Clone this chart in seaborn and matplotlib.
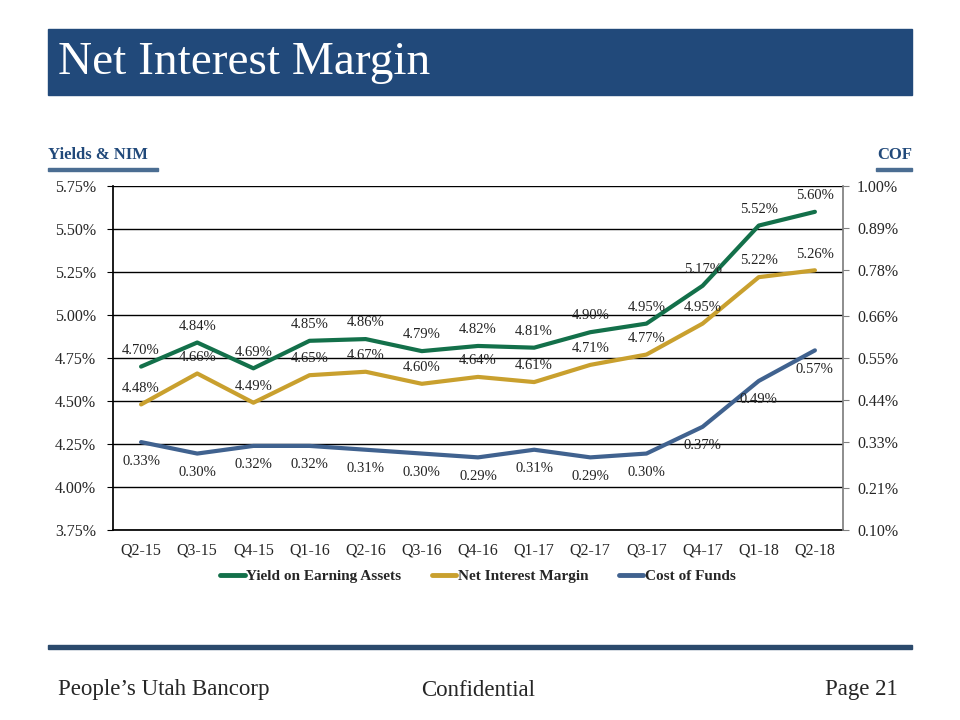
import matplotlib
matplotlib.use("Agg")
import matplotlib.pyplot as plt
import seaborn as sns
import pandas as pd
from matplotlib.patches import Rectangle
from matplotlib.lines import Line2D

quarters = ["Q2-15", "Q3-15", "Q4-15", "Q1-16", "Q2-16", "Q3-16", "Q4-16",
            "Q1-17", "Q2-17", "Q3-17", "Q4-17", "Q1-18", "Q2-18"]
yield_ea = [4.70, 4.84, 4.69, 4.85, 4.86, 4.79, 4.82, 4.81, 4.90, 4.95, 5.17, 5.52, 5.60]
nim = [4.48, 4.66, 4.49, 4.65, 4.67, 4.60, 4.64, 4.61, 4.71, 4.77, 4.95, 5.22, 5.26]
cof = [0.33, 0.30, 0.32, 0.32, 0.31, 0.30, 0.29, 0.31, 0.29, 0.30, 0.37, 0.49, 0.57]
left_ticks = [3.75, 4.00, 4.25, 4.50, 4.75, 5.00, 5.25, 5.50, 5.75]
right_ticks = [0.10, 0.21, 0.33, 0.44, 0.55, 0.66, 0.78, 0.89, 1.00]

GREEN = "#13704a"
GOLD = "#c9a02e"
BLUE = "#40628f"
NAVY = "#21497a"

sns.set_theme(style="white")
plt.rcParams["font.family"] = ["Liberation Serif", "DejaVu Serif"]

df = pd.DataFrame({"Quarter": quarters, "Yield": yield_ea, "NIM": nim, "COF": cof})
df["pos"] = range(len(quarters))

fig = plt.figure(figsize=(9.6, 7.2), dpi=100)
ax = fig.add_axes([113/960, 1-530/720, (843-113)/960, (530-186)/720])
ax2 = ax.twinx()

lw = 3.0
sns.lineplot(data=df, x="pos", y="Yield", ax=ax, color=GREEN, lw=lw, zorder=3)
sns.lineplot(data=df, x="pos", y="NIM", ax=ax, color=GOLD, lw=lw, zorder=3)
sns.lineplot(data=df, x="pos", y="COF", ax=ax2, color=BLUE, lw=lw, zorder=3)

ax.set_xlim(-0.5, len(quarters) - 0.5)
ax.set_ylim(3.75, 5.75)
ax2.set_ylim(0.10, 1.00)
ax.set_yticks(left_ticks)
ax.set_yticklabels([f"{v:.2f}%" for v in left_ticks], fontsize=11.5)
ax2.set_yticks(right_ticks)
ax2.set_yticklabels([f"{v:.2f}%" for v in right_ticks], fontsize=11.5)
ax.set_xticks(range(len(quarters)))
ax.set_xticklabels(quarters, fontsize=11.5)
ax.set_xticks([i - 0.5 for i in range(len(quarters) + 1)], minor=True)
ax.tick_params(axis="x", which="major", length=0, pad=9)
ax.tick_params(axis="x", which="minor", length=5, color="black", width=0.8, direction="out")
ax.tick_params(axis="y", length=4, color="black", width=0.8, direction="out", pad=8)
ax2.tick_params(axis="y", length=4, color="gray", width=0.8, direction="out", pad=6)
ax.set_xlabel("")
ax.set_ylabel("")
ax2.set_ylabel("")
ax.grid(False)
ax2.grid(False)
for v in left_ticks:
    ax.axhline(v, color="black", lw=1.0, zorder=1)
for s in ["top", "right"]:
    ax.spines[s].set_visible(False)
ax.spines["left"].set_color("black")
ax.spines["bottom"].set_color("black")
ax2.spines["right"].set_color("gray")
ax2.spines["top"].set_visible(False)
ax2.spines["left"].set_visible(False)
ax2.spines["bottom"].set_visible(False)

for i, v in enumerate(yield_ea):
    ax.annotate(f"{v:.2f}%", (i, v), xytext=(0, 7), textcoords="offset points",
                ha="center", va="bottom", fontsize=10.5, color="#222222")
for i, v in enumerate(nim):
    ax.annotate(f"{v:.2f}%", (i, v), xytext=(0, 7), textcoords="offset points",
                ha="center", va="bottom", fontsize=10.5, color="#222222")
for i, v in enumerate(cof):
    ax2.annotate(f"{v:.2f}%", (i, v), xytext=(0, -9), textcoords="offset points",
                 ha="center", va="top", fontsize=10.5, color="#222222")

handles = [Line2D([0], [0], color=GREEN, lw=3.5),
           Line2D([0], [0], color=GOLD, lw=3.5),
           Line2D([0], [0], color=BLUE, lw=3.5)]
fig.legend(handles, ["Yield on Earning Assets", "Net Interest Margin", "Cost of Funds"],
           loc="center", bbox_to_anchor=(478/960, 1-576/720), ncol=3, frameon=False,
           handlelength=1.6, handletextpad=0.1, columnspacing=2.0,
           prop={"weight": "bold", "size": 11})

# Title banner
fig.patches.append(Rectangle((48/960, 1-95/720), (912-48)/960, (95-29)/720,
                             transform=fig.transFigure, color=NAVY, zorder=0))
fig.text(58/960, 1-63/720, "Net Interest Margin", color="white", fontsize=34,
         va="center", ha="left")

# Axis headers
fig.text(48/960, 1-155/720, "Yields & NIM", color=NAVY, fontsize=12, weight="bold",
         va="center", ha="left")
fig.patches.append(Rectangle((48/960, 1-171/720), (158-48)/960, 3/720,
                             transform=fig.transFigure, color="#4b6d92"))
fig.text(912/960, 1-155/720, "COF", color=NAVY, fontsize=12, weight="bold",
         va="center", ha="right")
fig.patches.append(Rectangle((876/960, 1-171/720), (912-876)/960, 3/720,
                             transform=fig.transFigure, color="#4b6d92"))

# Footer
fig.patches.append(Rectangle((48/960, 1-649/720), (912-48)/960, 4/720,
                             transform=fig.transFigure, color="#2b4a6c"))
fig.text(58/960, 1-690/720, "People\u2019s Utah Bancorp", fontsize=16.5, va="center", ha="left")
fig.text(478/960, 1-690/720, "Confidential", fontsize=16.5, va="center", ha="center")
fig.text(898/960, 1-690/720, "Page 21", fontsize=16.5, va="center", ha="right")

fig.savefig("out.png", dpi=100)
